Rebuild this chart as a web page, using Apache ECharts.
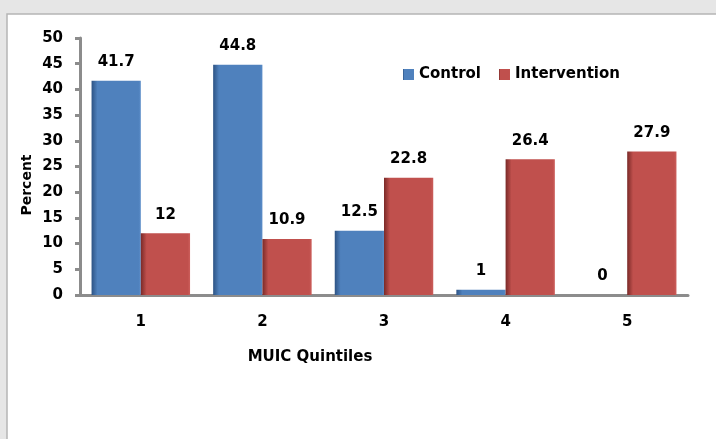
<!DOCTYPE html>
<html><head><meta charset="utf-8">
<script src="https://cdn.jsdelivr.net/npm/echarts@6/dist/echarts.min.js"></script>
<style>html,body{margin:0;padding:0;background:#e6e6e6;}#c{width:716px;height:439px;}</style>
</head><body><div id="c"></div>
<script>
const categories = ['1','2','3','4','5'];
const controlValues = [41.7, 44.8, 12.5, 1, 0];
const interventionValues = [12, 10.9, 22.8, 26.4, 27.9];
const seriesNames = ['Control','Intervention'];
const yTitle = 'Percent';
const xTitle = 'MUIC Quintiles';

const font = 'DejaVu Sans, sans-serif';
function grad(dark, main, light) {
  return new echarts.graphic.LinearGradient(0,0,1,0,[
    {offset:0,color:dark},{offset:0.12,color:main},{offset:0.95,color:main},{offset:1,color:light}
  ]);
}
const chart = echarts.init(document.getElementById('c'), null, {renderer:'canvas'});
chart.setOption({
  animation:false,
  backgroundColor:'#e6e6e6',
  textStyle:{fontFamily:font},
  graphic:[
    {type:'rect', shape:{x:7,y:14,width:720,height:440}, style:{fill:'#ffffff',stroke:'#b5b5b5',lineWidth:1.5}, z:-10},
    {type:'text', x:27, y:185, rotation:Math.PI/2,
     style:{text:yTitle, font:'bold 14px '+font, fill:'#000', textAlign:'center', textVerticalAlign:'middle'}},
    {type:'text', x:310, y:357,
     style:{text:xTitle, font:'bold 15px '+font, fill:'#000', textAlign:'center', textVerticalAlign:'middle'}}
  ],
  legend:{
    data:seriesNames, left:403, top:67, padding:0, itemWidth:11, itemHeight:11, itemGap:18,
    icon:'rect',
    textStyle:{fontWeight:'bold', fontSize:15, color:'#000', fontFamily:font}
  },
  grid:{left:80, right:28, top:38, bottom:144, containLabel:false},
  xAxis:{
    type:'category', data:categories,
    axisLine:{lineStyle:{color:'#8c8c8c', width:3}},
    axisTick:{show:false},
    axisLabel:{margin:20, fontWeight:'bold', fontSize:15, color:'#000'}
  },
  yAxis:{
    type:'value', min:0, max:50, interval:5,
    axisLine:{show:true, lineStyle:{color:'#8c8c8c', width:3}},
    axisTick:{show:true, length:5, lineStyle:{color:'#8c8c8c', width:3}},
    axisLabel:{margin:17, fontWeight:'bold', fontSize:15, color:'#000'},
    splitLine:{show:false}
  },
  series:[
    {name:seriesNames[0], type:'bar', data:controlValues, barGap:'0%', barCategoryGap:'19%',
     itemStyle:{color:grad('#2d5384','#4f81bd','#5a8cc8')},
     label:{show:true, position:'top', distance:11, fontWeight:'bold', fontSize:15, color:'#000'}},
    {name:seriesNames[1], type:'bar', data:interventionValues,
     itemStyle:{color:grad('#7a2a28','#c0504d','#cc5e5b')},
     label:{show:true, position:'top', distance:11, fontWeight:'bold', fontSize:15, color:'#000'}}
  ]
});
</script></body></html>
